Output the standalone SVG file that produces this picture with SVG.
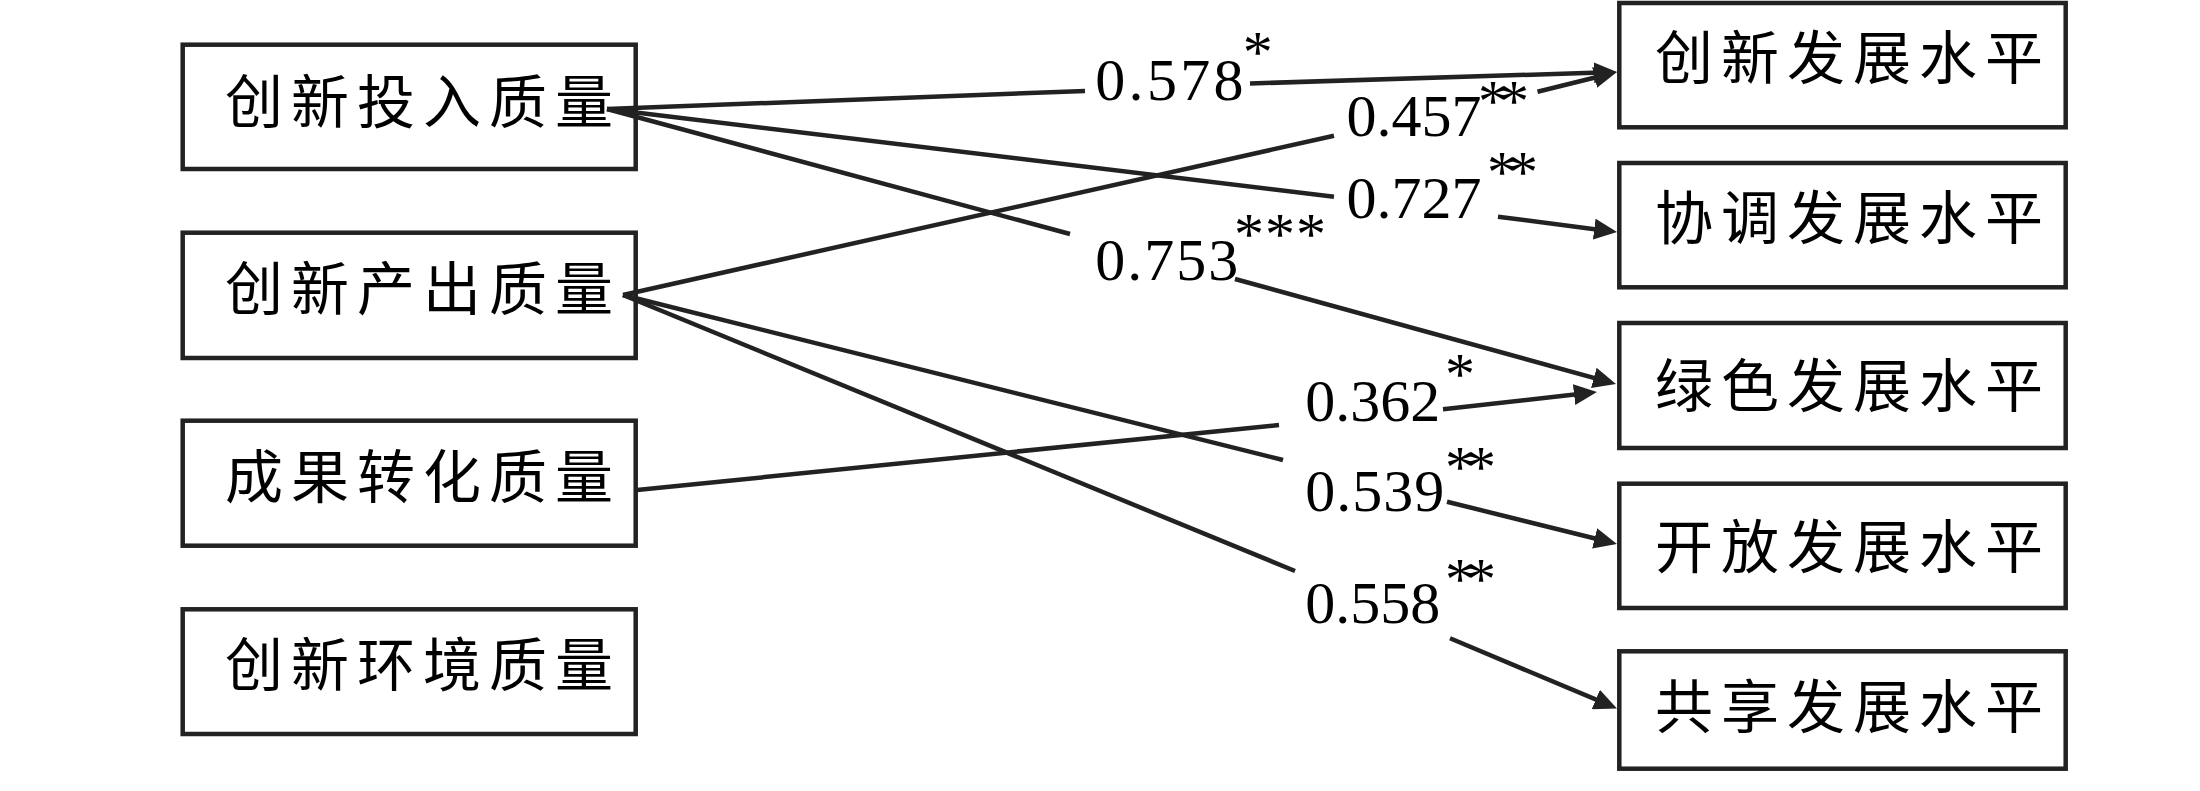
<svg xmlns="http://www.w3.org/2000/svg" width="2200" height="791" viewBox="0 0 2200 791">
<style>
.box{fill:#fff;stroke:#222;stroke-width:4.5}
.cn{font-family:"Noto Sans CJK SC","Noto Sans CJK TC",sans-serif;font-size:58px;letter-spacing:8px;fill:#000}
.num{font-family:"Liberation Serif","Times New Roman",serif;font-size:60px;fill:#000}
.ast{font-family:"Liberation Serif","Times New Roman",serif;font-size:60px;fill:#000}
.ln{fill:none;stroke:#222;stroke-width:4.5}
.arr{fill:none;stroke:#222;stroke-width:4.5;marker-end:url(#ah)}
</style>
<defs>
<marker id="ah" viewBox="0 0 23 21" refX="14" refY="10.5" markerWidth="23" markerHeight="21" markerUnits="userSpaceOnUse" orient="auto">
<path d="M0,0 L23,10.5 L0,21 z" fill="#222"/>
</marker>
</defs>
<rect width="2200" height="791" fill="#fff"/>

<g id="n-input"><rect class="box" x="182.7" y="44.7" width="453" height="124.3"/><text class="cn" x="225" y="123">创新投入质量</text></g>
<g id="n-output"><rect class="box" x="182.7" y="232.7" width="453" height="125.3"/><text class="cn" x="225" y="310">创新产出质量</text></g>
<g id="n-transfer"><rect class="box" x="182.7" y="420.7" width="453" height="125"/><text class="cn" x="225" y="498">成果转化质量</text></g>
<g id="n-env"><rect class="box" x="182.7" y="609.3" width="453" height="124.7"/><text class="cn" x="225" y="686">创新环境质量</text></g>

<g id="n-innov"><rect class="box" x="1619.3" y="3" width="446.4" height="124.3"/><text class="cn" x="1655" y="79">创新发展水平</text></g>
<g id="n-coord"><rect class="box" x="1619.3" y="163" width="446.4" height="124.3"/><text class="cn" x="1655" y="239">协调发展水平</text></g>
<g id="n-green"><rect class="box" x="1619.3" y="323" width="446.4" height="125"/><text class="cn" x="1655" y="407">绿色发展水平</text></g>
<g id="n-open"><rect class="box" x="1619.3" y="483.7" width="446.4" height="124.3"/><text class="cn" x="1655" y="568">开放发展水平</text></g>
<g id="n-share"><rect class="box" x="1619.3" y="651.3" width="446.4" height="117.4"/><text class="cn" x="1655" y="728">共享发展水平</text></g>

<g id="connectors">
<path class="ln" d="M607,109 L1085,91"/><path class="arr" d="M1250,83.5 L1608,72.3"/>
<path class="ln" d="M607,109 L1334,196.7"/><path class="arr" d="M1498,216.7 L1608.1,230.9"/>
<path class="ln" d="M607,109 L1070,234"/><path class="arr" d="M1235,279 L1607.3,381.6"/>
<path class="ln" d="M623,295 L1334,135.7"/><path class="arr" d="M1537.5,91.7 L1608.2,74.2"/>
<path class="ln" d="M623,295 L1283,460"/><path class="arr" d="M1447,501.7 L1608.2,541.8"/>
<path class="ln" d="M623,295 L1295,571"/><path class="arr" d="M1450,638.3 L1608.7,704.9"/>
<path class="ln" d="M637,490 L1279,425"/><path class="arr" d="M1443,409.3 L1588,393"/>
</g>

<g id="labels">
<text class="num" x="1095.3" y="100" letter-spacing="3.3">0.578</text><text class="ast" x="1242.7" y="72.3">*</text>
<text class="num" x="1346.6" y="136">0.457</text><text class="ast" x="1478" y="120.6" letter-spacing="-9">**</text>
<text class="num" x="1346.6" y="218">0.727</text><text class="ast" x="1487" y="192.3" letter-spacing="-9">**</text>
<text class="num" x="1095.3" y="280" letter-spacing="2">0.753</text><text class="ast" x="1234" y="253.6" letter-spacing="1">***</text>
<text class="num" x="1305.3" y="421">0.362</text><text class="ast" x="1445" y="394">*</text>
<text class="num" x="1305.3" y="511" letter-spacing="1">0.539</text><text class="ast" x="1445" y="486.6" letter-spacing="-9">**</text>
<text class="num" x="1305.3" y="622.5">0.558</text><text class="ast" x="1445" y="598.6" letter-spacing="-9">**</text>
</g>
</svg>
